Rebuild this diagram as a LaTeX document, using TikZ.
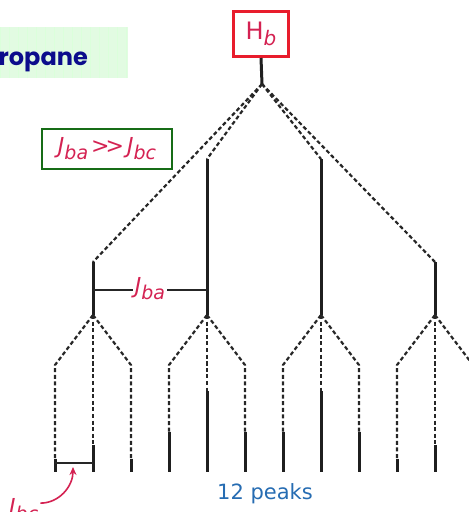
\documentclass[tikz,border=0pt]{standalone}
\usepackage{fontspec}
\setmainfont{DejaVu Sans}
\newfontfamily\titlefont{Poppins}
\definecolor{hbred}{RGB}{232, 28, 44}
\definecolor{labred}{RGB}{212, 34, 82}
\definecolor{boxgreen}{RGB}{22, 108, 22}
\definecolor{peakblue}{RGB}{38, 108, 178}
\definecolor{titlenavy}{RGB}{12, 12, 140}
\definecolor{paleg}{RGB}{226, 251, 226}
\usetikzlibrary{arrows.meta, positioning}
\newcommand{\jcoup}[1]{\textit{J}\raisebox{-6pt}{\fontsize{19}{19}\selectfont\itshape #1}}
\tikzset{
  peak/.style={line width=3pt, black!88},
  split/.style={line width=2.2pt, black!85, dash pattern=on 4pt off 2.6pt},
  jlabel/.style={font=\fontsize{22}{24}\selectfont, text=labred, inner sep=2pt},
  hbbox/.style={draw=hbred, line width=3pt, minimum width=55pt, minimum height=45pt, fill=white, font=\fontsize{24}{26}\selectfont, text=labred},
  ratiobox/.style={jlabel, draw=boxgreen, line width=2.5pt, minimum width=130pt, minimum height=40pt},
  redarrow/.style={-{Stealth[length=8pt, width=7pt]}, line width=1.6pt, labred},
  bracket/.style={line width=1.4pt, black!85},
}

\begin{document}
\begin{tikzpicture}[x=1pt, y=-1pt]
  \useasboundingbox (0,0) rectangle (469,512);
  \clip (0,0) rectangle (469,512);
  % title strip
  \node[fill=paleg, minimum width=128pt, minimum height=51pt, inner sep=0pt] (titlebox) at (64,52.5) {};
  \draw[green!14, line width=0.4pt, step=9] (0,27) grid (128,78);
  \node[anchor=base east, inner sep=0pt, font=\titlefont\bfseries\fontsize{24}{26}\selectfont, text=titlenavy] (title) at (88,65) {propane};

  \node[hbbox] (hb) at (261,34) {H\raisebox{-6pt}{\fontsize{20}{20}\selectfont\itshape b}};
  \node[ratiobox] (ratio) at (107,149) {\jcoup{ba}\kern3pt>\kern-4pt>\kern3pt\jcoup{bc}};

  \coordinate (root) at (262,84);
  \draw[peak] (hb.south) -- (root);
  \foreach \n/\x/\y/\w in {1/93/262/1, 2/207/159/3, 3/321/159/3, 4/435/262/1} {
    \coordinate (t\n) at (\x,\y);
    \coordinate (b\n) at (\x,315);
    \draw[split] (root) -- (t\n);
    \draw[peak] (t\n) -- (b\n);
    \foreach \s/\d/\h in {l/-38/1, m/0/2, r/38/1} {
      \coordinate (k\n\s) at (\x+\d,365);
      \coordinate (p\n\s) at (\x+\d,472-13.5*\h*\w);
      \coordinate (f\n\s) at (\x+\d,472);
      \draw[split] (b\n) -- (k\n\s) -- (p\n\s);
      \draw[peak] (p\n\s) -- (f\n\s);
    }
  }

  % coupling brackets
  \coordinate (bal) at (93,290);
  \coordinate (bar) at (207,290);
  \draw[bracket] (bal) -- (bar);
  \node[jlabel, fill=white] (jba) at (150,289) {\jcoup{ba}};
  \coordinate (bcl) at (55,463);
  \coordinate (bcr) at (93,463);
  \draw[bracket] (bcl) -- (bcr);
  \coordinate (bcmid) at (73,467);

  \node[jlabel, anchor=base west, inner sep=0pt] (jbc) at (9,514) {\jcoup{bc}};
  \draw[redarrow] ([xshift=2pt, yshift=6pt]jbc.east) to[out=0, in=-90] (bcmid);
  \node[anchor=base, inner sep=0pt, font=\fontsize{21}{23}\selectfont, text=peakblue] (npeaks) at (265,499) {12 peaks};
\end{tikzpicture}
\end{document}
